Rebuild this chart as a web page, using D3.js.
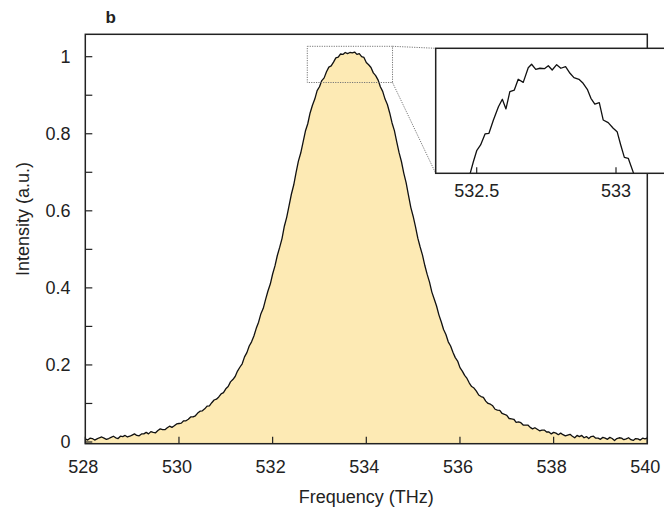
<!DOCTYPE html>
<html>
<head>
<meta charset="utf-8">
<script src="https://cdn.jsdelivr.net/npm/d3@7/dist/d3.min.js"></script>
<style>
  html, body { margin: 0; padding: 0; background: #fff; }
  svg { display: block; }
  text { font-family: "Liberation Sans", Arial, Helvetica, sans-serif; fill: #222; }
</style>
</head>
<body>
<svg id="chart" width="664" height="514"></svg>
<script>
// ---------------- DATA ----------------
// Main spectrum: frequency (THz) from 528.00 to 540.00 in 0.05 steps
const freqStart = 528.0;
const freqStep = 0.05;
const intensity = [
  // 528.00 - 529.95
  0.008, 0.005, 0.010, 0.009, 0.005, 0.008, 0.011, 0.013, 0.010, 0.007,
  0.009, 0.012, 0.015, 0.011, 0.009, 0.015, 0.014, 0.017, 0.013, 0.015,
  0.018, 0.021, 0.017, 0.016, 0.021, 0.021, 0.025, 0.021, 0.027, 0.025,
  0.024, 0.030, 0.034, 0.032, 0.032, 0.037, 0.041, 0.038, 0.042, 0.047,
  // 530.00 - 531.95
  0.048, 0.049, 0.055, 0.055, 0.059, 0.065, 0.065, 0.068, 0.075, 0.080,
  0.081, 0.086, 0.093, 0.094, 0.102, 0.109, 0.111, 0.117, 0.125, 0.128,
  0.138, 0.144, 0.156, 0.162, 0.170, 0.184, 0.194, 0.203, 0.221, 0.232,
  0.249, 0.260, 0.275, 0.295, 0.311, 0.333, 0.347, 0.370, 0.392, 0.410,
  // 532.00 - 533.65
  0.436, 0.457, 0.484, 0.505, 0.528, 0.560, 0.583, 0.613, 0.643, 0.667,
  0.699, 0.729, 0.750, 0.778, 0.807, 0.826, 0.854, 0.874, 0.890, 0.912,
  0.922, 0.938, 0.945, 0.961, 0.973, 0.976, 0.986, 0.997, 0.999, 1.007,
  1.006, 1.011, 1.008, 1.011,
  // 533.70 - 535.65
  1.010, 1.012, 1.006, 1.008, 1.000, 0.998, 0.985, 0.979, 0.972, 0.958,
  0.951, 0.940, 0.922, 0.910, 0.890, 0.876, 0.854, 0.828, 0.808, 0.779,
  0.751, 0.728, 0.698, 0.673, 0.641, 0.609, 0.586, 0.559, 0.529, 0.506,
  0.485, 0.458, 0.435, 0.415, 0.389, 0.371, 0.353, 0.330, 0.312, 0.292,
  // 535.70 - 537.65
  0.279, 0.260, 0.249, 0.233, 0.219, 0.210, 0.193, 0.184, 0.173, 0.165,
  0.153, 0.144, 0.140, 0.132, 0.122, 0.118, 0.116, 0.106, 0.100, 0.098,
  0.094, 0.085, 0.083, 0.082, 0.074, 0.072, 0.069, 0.061, 0.060, 0.059,
  0.051, 0.052, 0.050, 0.044, 0.044, 0.044, 0.038, 0.034, 0.037, 0.033,
  // 537.70 - 540.00
  0.029, 0.031, 0.031, 0.026, 0.026, 0.021, 0.025, 0.023, 0.019, 0.023,
  0.019, 0.016, 0.018, 0.020, 0.015, 0.011, 0.017, 0.014, 0.017, 0.011,
  0.014, 0.009, 0.014, 0.015, 0.010, 0.010, 0.007, 0.012, 0.010, 0.007,
  0.012, 0.009, 0.004, 0.009, 0.011, 0.010, 0.006, 0.008, 0.011, 0.006,
  0.004, 0.009, 0.008, 0.005, 0.010, 0.008, 0.010
];
const frequency = intensity.map((_, i) => +(freqStart + i * freqStep).toFixed(2));

// Inset (zoom of the peak top)
const insetFreq = [
  532.460, 532.476, 532.488, 532.500, 532.514, 532.530, 532.544, 532.560, 532.578, 532.592,
  532.605, 532.619, 532.635, 532.649, 532.667, 532.685, 532.697, 532.712, 532.727, 532.743,
  532.757, 532.771, 532.787, 532.802, 532.819, 532.835, 532.849, 532.867, 532.882, 532.897,
  532.910, 532.924, 532.940, 532.954, 532.972, 532.990, 533.004, 533.017, 533.030, 533.044,
  533.064, 533.080
];
const insetIntensity = [
  0.920, 0.9325, 0.9417, 0.9500, 0.9543, 0.9626, 0.9631, 0.9731, 0.9831, 0.9887,
  0.9814, 0.9944, 0.9956, 1.0037, 1.0014, 1.0124, 1.0150, 1.0112, 1.0120, 1.0117,
  1.0139, 1.0107, 1.0147, 1.0120, 1.0132, 1.0082, 1.0049, 1.0037, 1.0007, 0.9962,
  0.9894, 0.9851, 0.9861, 0.9731, 0.9711, 0.9669, 0.9643, 0.9543, 0.9450, 0.9443,
  0.9325, 0.920
];

// Axis ticks
const xTicks = [528, 530, 532, 534, 536, 538, 540];
const yTicksMajor = [0, 0.2, 0.4, 0.6, 0.8, 1];
const yTicksMinor = [0.1, 0.3, 0.5, 0.7, 0.9];
const insetTicks = [532.5, 533];
const insetTickLabels = ["532.5", "533"];
// zoom window on the main plot
const zoomFreq = [532.74, 534.56];
const zoomInt = [0.933, 1.027];

// ---------------- CHART ----------------
const svg = d3.select("#chart");

const plot = { left: 85.3, right: 647.3, top: 34.3, bottom: 443.7 };
const x = d3.scaleLinear().domain([528, 540]).range([plot.left, plot.right]);
const y = d3.scaleLinear().domain([0, 1]).range([442, 56.7]);
const yBottomVal = y.invert(plot.bottom);

const data = frequency.map((f, i) => ({ f, v: intensity[i] }));

// Fill
svg.append("path")
  .datum(data)
  .attr("fill", "#fdeab4")
  .attr("stroke", "none")
  .attr("d", d3.area().x(d => x(d.f)).y0(y(yBottomVal)).y1(d => y(d.v)));

// Curve
svg.append("path")
  .datum(data)
  .attr("fill", "none")
  .attr("stroke", "#111")
  .attr("stroke-width", 1.3)
  .attr("stroke-linejoin", "round")
  .attr("d", d3.line().x(d => x(d.f)).y(d => y(d.v)));

// Frame
svg.append("rect")
  .attr("x", plot.left).attr("y", plot.top)
  .attr("width", plot.right - plot.left).attr("height", plot.bottom - plot.top)
  .attr("fill", "none").attr("stroke", "#222").attr("stroke-width", 1.5);

// X ticks (inside, pointing up)
const tickLen = 7;
svg.append("g").selectAll("line").data(xTicks).join("line")
  .attr("x1", d => x(d)).attr("x2", d => x(d))
  .attr("y1", plot.bottom).attr("y2", plot.bottom - tickLen)
  .attr("stroke", "#222").attr("stroke-width", 1.2);
svg.append("g").selectAll("text").data(xTicks).join("text")
  .attr("x", d => x(d) - 2).attr("y", 472.5)
  .attr("text-anchor", "middle").attr("font-size", 18)
  .text(d => d);

// Y ticks (inside, pointing right)
svg.append("g").selectAll("line").data(yTicksMajor.concat(yTicksMinor)).join("line")
  .attr("x1", plot.left).attr("x2", plot.left + tickLen)
  .attr("y1", d => y(d)).attr("y2", d => y(d))
  .attr("stroke", "#222").attr("stroke-width", 1.2);
svg.append("g").selectAll("text").data(yTicksMajor).join("text")
  .attr("x", 70.5).attr("y", d => y(d) + 6.4)
  .attr("text-anchor", "end").attr("font-size", 18)
  .text(d => d3.format("~g")(d));

// Axis titles
svg.append("text")
  .attr("x", (plot.left + plot.right) / 2).attr("y", 503)
  .attr("text-anchor", "middle").attr("font-size", 18)
  .text("Frequency (THz)");
svg.append("text")
  .attr("transform", "translate(29,219) rotate(-90)")
  .attr("text-anchor", "middle").attr("font-size", 18)
  .text("Intensity (a.u.)");

// Panel label
svg.append("text")
  .attr("x", 105.5).attr("y", 22.7)
  .attr("font-size", 17).attr("font-weight", "bold")
  .text("b");

// Zoom box on main plot
const zx0 = x(zoomFreq[0]), zx1 = x(zoomFreq[1]);
const zy0 = y(zoomInt[1]), zy1 = y(zoomInt[0]);
const dotted = { stroke: "#777", "stroke-width": 1, "stroke-dasharray": "1.2,1.2", fill: "none" };
const zr = svg.append("rect")
  .attr("x", zx0).attr("y", zy0).attr("width", zx1 - zx0).attr("height", zy1 - zy0);
Object.entries(dotted).forEach(([k, v]) => zr.attr(k, v));

// Inset
const inset = { left: 435.7, right: 700, top: 48.3, bottom: 173.3 };
const xi = d3.scaleLinear().domain([532.5, 533]).range([476.7, 616]);
const yi = d3.scaleLinear().domain(zoomInt).range([inset.bottom, inset.top]);

// connector lines
[[zx1, zy0, inset.left, inset.top], [zx1, zy1, inset.left, inset.bottom]].forEach(c => {
  const l = svg.append("line").attr("x1", c[0]).attr("y1", c[1]).attr("x2", c[2]).attr("y2", c[3]);
  Object.entries(dotted).forEach(([k, v]) => l.attr(k, v));
});

svg.append("rect")
  .attr("x", inset.left).attr("y", inset.top)
  .attr("width", inset.right - inset.left).attr("height", inset.bottom - inset.top)
  .attr("fill", "#fff").attr("stroke", "none");

svg.append("clipPath").attr("id", "insetClip").append("rect")
  .attr("x", inset.left).attr("y", inset.top)
  .attr("width", inset.right - inset.left).attr("height", inset.bottom - inset.top);

const insetData = insetFreq.map((f, i) => ({ f, v: insetIntensity[i] }));
svg.append("path")
  .datum(insetData)
  .attr("clip-path", "url(#insetClip)")
  .attr("fill", "none").attr("stroke", "#111").attr("stroke-width", 1.3)
  .attr("stroke-linejoin", "round")
  .attr("d", d3.line().x(d => xi(d.f)).y(d => yi(d.v)));

svg.append("rect")
  .attr("x", inset.left).attr("y", inset.top)
  .attr("width", inset.right - inset.left).attr("height", inset.bottom - inset.top)
  .attr("fill", "none").attr("stroke", "#222").attr("stroke-width", 1.5);

svg.append("g").selectAll("line").data(insetTicks).join("line")
  .attr("x1", d => xi(d)).attr("x2", d => xi(d))
  .attr("y1", inset.bottom).attr("y2", inset.bottom - 6)
  .attr("stroke", "#222").attr("stroke-width", 1.2);
svg.append("g").selectAll("text").data(insetTicks).join("text")
  .attr("x", d => xi(d)).attr("y", 196.5)
  .attr("text-anchor", "middle").attr("font-size", 18)
  .text((d, i) => insetTickLabels[i]);
</script>
</body>
</html>
